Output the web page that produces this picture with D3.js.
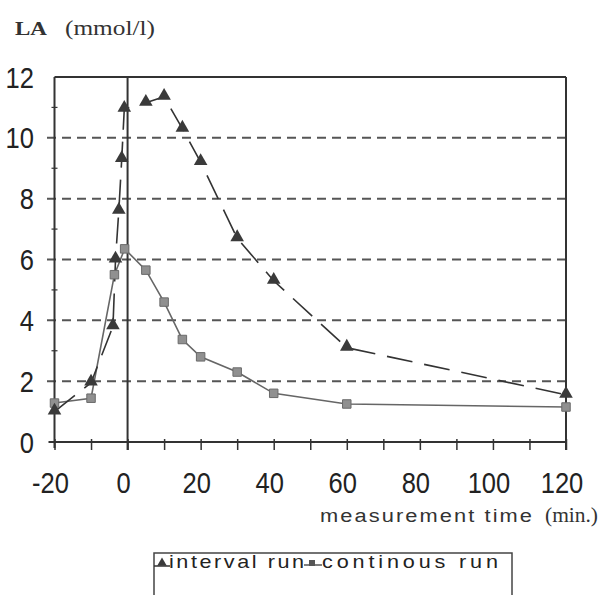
<!DOCTYPE html>
<html><head><meta charset="utf-8">
<script src="https://cdn.jsdelivr.net/npm/d3@7"></script>
<style>body{margin:0;background:#fff}svg{display:block}</style>
</head><body>
<script>
// ---- data ----
const intervalTime = [-20, -10, -4, -3.3, -2.4, -1.6, -0.9, 5, 10, 15, 20, 30, 40, 60, 120];
const intervalLA   = [1.0, 1.95, 3.8, 6.0, 7.6, 9.3, 10.95, 11.15, 11.35, 10.3, 9.2, 6.7, 5.3, 3.1, 1.55];
const continousTime = [-20, -10, -3.6, -0.8, 5, 10, 15, 20, 30, 40, 60, 120];
const continousLA   = [1.28, 1.44, 5.5, 6.35, 5.65, 4.6, 3.37, 2.8, 2.3, 1.6, 1.25, 1.15];
const xTickLabels = [-20, 0, 20, 40, 60, 80, 100, 120];
const xMinorTicks = [-20, -10, 0, 10, 20, 30, 40, 50, 60, 70, 80, 90, 100, 110, 120];
const yTickLabels = [0, 2, 4, 6, 8, 10, 12];
const yGrid = [2, 4, 6, 8, 10];
const yMinorTicks = [1, 3, 5, 7, 9, 11];
const seriesNames = ["interval run", "continous run"];

const W = 603, H = 595;
const svg = d3.select("body").append("svg").attr("width", W).attr("height", H);
const x = d3.scaleLinear().domain([-20, 120]).range([54.5, 566]);
const y = d3.scaleLinear().domain([0, 12]).range([442, 77]);
const frame = "#333";

// grid lines
svg.append("g").selectAll("line").data(yGrid).join("line")
  .attr("x1", 47).attr("x2", x(120)).attr("y1", d => y(d)).attr("y2", d => y(d))
  .attr("stroke", "#555").attr("stroke-width", 2).attr("stroke-dasharray", "9,6");

// frame
svg.append("line").attr("x1", x(-20)).attr("x2", x(120)).attr("y1", y(12)).attr("y2", y(12)).attr("stroke", frame).attr("stroke-width", 2);
svg.append("line").attr("x1", x(120)).attr("x2", x(120)).attr("y1", y(12)).attr("y2", y(0) + 8).attr("stroke", frame).attr("stroke-width", 2);
svg.append("line").attr("x1", x(-20)).attr("x2", x(-20)).attr("y1", y(12)).attr("y2", y(0) + 6).attr("stroke", frame).attr("stroke-width", 2);
svg.append("line").attr("x1", x(0)).attr("x2", x(0)).attr("y1", y(12)).attr("y2", y(0) + 8).attr("stroke", frame).attr("stroke-width", 2);

// x axis via d3
const xAxis = d3.axisBottom(x).tickValues(xMinorTicks).tickSize(8).tickFormat("");
const gx = svg.append("g").attr("transform", `translate(0,${y(0)})`).call(xAxis);
gx.select(".domain").attr("stroke", frame).attr("stroke-width", 2).attr("d", `M${x(-20) - 6},0H${x(120)}`);
gx.selectAll(".tick line").attr("stroke", frame).attr("stroke-width", 1.5).attr("y1", -3);

// y minor ticks
svg.append("g").selectAll("line").data(yMinorTicks).join("line")
  .attr("x1", x(-20) - 3).attr("x2", x(-20) + 3).attr("y1", d => y(d)).attr("y2", d => y(d))
  .attr("stroke", frame).attr("stroke-width", 1.2);

// tick labels
const tickFont = "'Liberation Sans', Arial, sans-serif";
const serif = "'Liberation Serif', 'Times New Roman', serif";
svg.append("g").selectAll("text").data(xTickLabels).join("text")
  .attr("transform", d => `translate(${x(d) - 4},493) scale(0.88,1)`)
  .attr("text-anchor", "middle").attr("font-family", tickFont).attr("font-size", 29)
  .attr("fill", "#222").text(d => d);
svg.append("g").selectAll("text").data(yTickLabels).join("text")
  .attr("transform", d => `translate(34,${y(d) + 10.5}) scale(0.88,1)`)
  .attr("text-anchor", "end").attr("font-family", tickFont).attr("font-size", 29)
  .attr("fill", "#222").text(d => d);

// axis titles
svg.append("text").attr("x", 15).attr("y", 35).attr("font-family", serif)
  .attr("font-weight", "bold").attr("font-size", 19).attr("textLength", 32).attr("lengthAdjust", "spacingAndGlyphs")
  .attr("fill", "#333").text("LA");
svg.append("text").attr("x", 65).attr("y", 35).attr("font-family", serif)
  .attr("font-size", 21).attr("textLength", 90).attr("lengthAdjust", "spacingAndGlyphs")
  .attr("fill", "#333").text("(mmol/l)");
const sx = 1.15;
svg.append("text").attr("transform", `translate(320,522) scale(${sx},1)`).attr("font-family", tickFont)
  .attr("font-size", 19).attr("textLength", 212 / sx).attr("lengthAdjust", "spacing").attr("fill", "#333").text("measurement time");
svg.append("text").attr("x", 545).attr("y", 522).attr("font-family", serif)
  .attr("font-size", 21).attr("textLength", 53).attr("lengthAdjust", "spacingAndGlyphs").attr("fill", "#333").text("(min.)");

// series
const intervalData = intervalTime.map((t, i) => [t, intervalLA[i]]);
const continousData = continousTime.map((t, i) => [t, continousLA[i]]);
const line = d3.line().x(d => x(d[0])).y(d => y(d[1]));

svg.append("path").datum(continousData).attr("d", line)
  .attr("fill", "none").attr("stroke", "#666").attr("stroke-width", 1.6);
svg.append("path").datum(intervalData).attr("d", line)
  .attr("fill", "none").attr("stroke", "#333").attr("stroke-width", 1.6).attr("stroke-dasharray", "26,12");

const sq = d3.symbol().type(d3.symbolSquare).size(72);
const tri = d3.symbol().type(d3.symbolTriangle).size(80);
svg.append("g").selectAll("path").data(continousData).join("path")
  .attr("d", sq).attr("transform", d => `translate(${x(d[0])},${y(d[1])})`)
  .attr("fill", "#909090").attr("stroke", "#6a6a6a").attr("stroke-width", 1);
svg.append("g").selectAll("path").data(intervalData).join("path")
  .attr("d", tri).attr("transform", d => `translate(${x(d[0])},${y(d[1]) - 1})`)
  .attr("fill", "#3a3a3a");

// legend
const lg = svg.append("g");
lg.append("rect").attr("x", 154).attr("y", 553).attr("width", 358).attr("height", 60)
  .attr("fill", "none").attr("stroke", "#444").attr("stroke-width", 1.5);
lg.append("line").attr("x1", 154).attr("x2", 170).attr("y1", 566).attr("y2", 566).attr("stroke", "#333").attr("stroke-width", 1.5);
lg.append("path").attr("d", d3.symbol().type(d3.symbolTriangle).size(40)).attr("transform", "translate(162,563)").attr("fill", "#3a3a3a");
const ls = 1.2;
lg.append("text").attr("transform", `translate(169,568) scale(${ls},1)`).attr("font-family", tickFont).attr("font-size", 18)
  .attr("textLength", 135 / ls).attr("lengthAdjust", "spacing").attr("fill", "#222").text(seriesNames[0]);
lg.append("line").attr("x1", 304).attr("x2", 322).attr("y1", 565).attr("y2", 565).attr("stroke", "#555").attr("stroke-width", 1.5);
lg.append("path").attr("d", d3.symbol().type(d3.symbolSquare).size(36)).attr("transform", "translate(312,563)").attr("fill", "#555");
lg.append("text").attr("transform", `translate(322,568) scale(${ls},1)`).attr("font-family", tickFont).attr("font-size", 18)
  .attr("textLength", 176 / ls).attr("lengthAdjust", "spacing").attr("fill", "#222").text(seriesNames[1]);
</script>
</body></html>
